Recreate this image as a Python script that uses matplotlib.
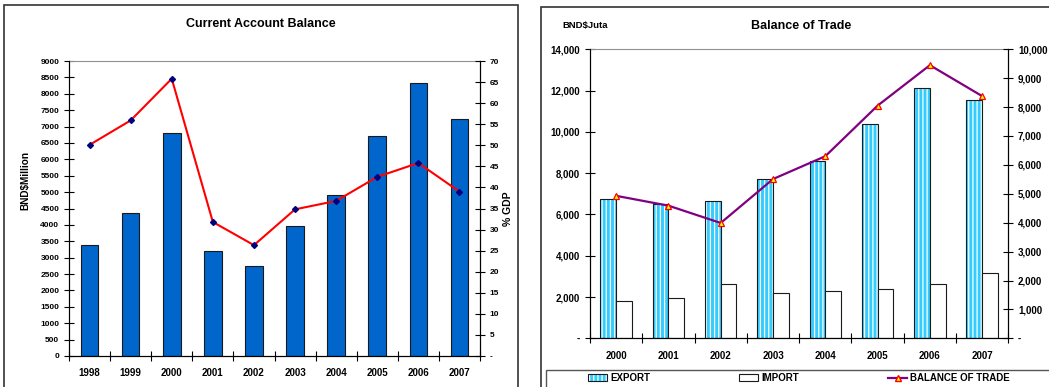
import matplotlib
matplotlib.use("Agg")
import matplotlib.pyplot as plt
from matplotlib.patches import Rectangle, Patch
from matplotlib.lines import Line2D
from matplotlib.ticker import FixedLocator, FuncFormatter
import numpy as np

plt.rcParams['font.family'] = ['Liberation Sans', 'DejaVu Sans']
plt.rcParams['font.weight'] = 'bold'
plt.rcParams['hatch.linewidth'] = 0.9

# data - current account
ca_years = ['1998', '1999', '2000', '2001', '2002', '2003', '2004', '2005', '2006', '2007']
ca_balance = [3400, 4370, 6800, 3190, 2750, 3980, 4910, 6720, 8320, 7220]
ca_pct_gdp = [50.1, 55.9, 65.8, 31.8, 26.3, 34.8, 36.8, 42.5, 45.8, 39.0]

# data - balance of trade
bt_years = ['2000', '2001', '2002', '2003', '2004', '2005', '2006', '2007']
bt_export = [6730, 6500, 6630, 7720, 8570, 10400, 12110, 11540]
bt_import = [1810, 1970, 2650, 2210, 2290, 2370, 2650, 3160]
bt_balance = [4930, 4590, 3990, 5510, 6300, 8050, 9450, 8380]

W, H = 1049, 387
fig = plt.figure(figsize=(W / 100, H / 100), dpi=100)


def px(x0, y0, x1, y1):
    # pixel box -> figure fraction rect
    return [x0 / W, 1 - y1 / H, (x1 - x0) / W, (y1 - y0) / H]


# panel frames
fig.patches.append(Rectangle((4 / W, -0.05), 514 / W, 1 - 5 / H + 0.05,
                             transform=fig.transFigure, fill=False,
                             edgecolor='#333333', linewidth=1.2))
fig.patches.append(Rectangle((541 / W, -0.05), 0.6, 1 - 7 / H + 0.05,
                             transform=fig.transFigure, fill=False,
                             edgecolor='#333333', linewidth=1.2))


def style_axes(ax, n):
    ax.set_xlim(-0.5, n - 0.5)
    ax.spines['top'].set_color('#909090')
    ax.spines['top'].set_linewidth(0.8)
    for s in ['left', 'bottom', 'right']:
        ax.spines[s].set_linewidth(0.8)
    ax.xaxis.set_minor_locator(FixedLocator(np.arange(n + 1) - 0.5))
    ax.tick_params(axis='x', which='major', length=0, labelsize=7, pad=9)
    ax.tick_params(axis='x', which='minor', direction='inout', length=7, width=0.8)
    ax.tick_params(axis='y', direction='inout', length=7, width=0.8)


# ---------- Current Account Balance ----------
ax1 = fig.add_axes(px(69, 61, 480, 356))
x = np.arange(len(ca_years))
ax1.bar(x, ca_balance, width=0.43, color='#0066CC', edgecolor='#1a1a1a', linewidth=0.8)
ax1.set_ylim(0, 9000)
ax1.set_yticks(np.arange(0, 9001, 500))
ax1.tick_params(axis='y', labelsize=6)
ax1.set_xticks(x)
ax1.set_xticklabels(ca_years)
style_axes(ax1, len(ca_years))

ax1r = ax1.twinx()
ax1r.plot(x, ca_pct_gdp, color='#FF0000', linewidth=1.5, marker='D',
          markersize=3, markerfacecolor='#000080', markeredgecolor='#000080')
ax1r.set_ylim(0, 70)
ax1r.set_yticks(np.arange(0, 71, 5))
ax1r.yaxis.set_major_formatter(FuncFormatter(lambda v, p: '-' if v == 0 else f'{v:.0f}'))
ax1r.tick_params(axis='y', direction='inout', length=7, width=0.8, labelsize=6)
ax1r.spines['top'].set_visible(False)

fig.text(261 / W, 1 - 24 / H, 'Current Account Balance', ha='center', va='center',
         fontsize=9, fontweight='bold')
fig.text(25 / W, 1 - 181 / H, 'BND$Million', rotation=90, ha='center', va='center',
         fontsize=7.2, fontweight='bold')
fig.text(508 / W, 1 - 209 / H, '% GDP', rotation=90, ha='center', va='center',
         fontsize=7.5, fontweight='bold')

# ---------- Balance of Trade ----------
ax2 = fig.add_axes(px(590, 49.3, 1008.3, 338.3))
x2 = np.arange(len(bt_years))
bw = 0.3
ax2.bar(x2 - bw / 2, bt_export, width=bw, color='#33CCFF', edgecolor='white',
        linewidth=0, hatch='||||')
ax2.bar(x2 - bw / 2, bt_export, width=bw, fill=False, edgecolor='#1a1a1a', linewidth=0.8)
ax2.bar(x2 + bw / 2, bt_import, width=bw, color='white', edgecolor='#1a1a1a', linewidth=0.8)
ax2.set_ylim(0, 14000)
ax2.set_yticks(np.arange(0, 14001, 2000))
ax2.yaxis.set_major_formatter(FuncFormatter(lambda v, p: '-' if v == 0 else f'{v:,.0f}'))
ax2.tick_params(axis='y', labelsize=7)
ax2.set_xticks(x2)
ax2.set_xticklabels(bt_years)
style_axes(ax2, len(bt_years))

ax2r = ax2.twinx()
ax2r.plot(x2, bt_balance, color='#800080', linewidth=1.6, marker='^',
          markersize=4.5, markerfacecolor='#FFFF00', markeredgecolor='#FF0000',
          markeredgewidth=0.9)
ax2r.set_ylim(0, 10000)
ax2r.set_yticks(np.arange(0, 10001, 1000))
ax2r.yaxis.set_major_formatter(FuncFormatter(lambda v, p: '-' if v == 0 else f'{v:,.0f}'))
ax2r.tick_params(axis='y', direction='inout', length=7, width=0.8, labelsize=7)
ax2r.spines['top'].set_visible(False)

fig.text(801 / W, 1 - 26 / H, 'Balance of Trade', ha='center', va='center',
         fontsize=9, fontweight='bold')
fig.text(562 / W, 1 - 25.6 / H, 'BND$Juta', ha='left', va='center',
         fontsize=6.8, fontweight='bold')

# legend box
fig.patches.append(Rectangle((546 / W, -0.05), 0.6, 1 - 370 / H + 0.05,
                             transform=fig.transFigure, fill=False,
                             edgecolor='#555555', linewidth=1.0))
exp_handle = (Patch(facecolor='#33CCFF', edgecolor='white', hatch='||||', linewidth=0),
              Patch(fill=False, edgecolor='#1a1a1a', linewidth=0.8))
imp_handle = Patch(facecolor='white', edgecolor='#1a1a1a', linewidth=0.8)
bal_handle = Line2D([], [], color='#800080', linewidth=1.6, marker='^', markersize=4.5,
                    markerfacecolor='#FFFF00', markeredgecolor='#FF0000')
labels = ['EXPORT', 'IMPORT', 'BALANCE OF TRADE']
for h, lab, xp in zip([exp_handle, imp_handle, bal_handle], labels, [588, 739, 888]):
    fig.legend([h], [lab], loc='center left', bbox_to_anchor=(xp / W, 1 - 378 / H),
               frameon=False, fontsize=7, handlelength=2.0, handleheight=0.6,
               handletextpad=0.3, borderpad=0, borderaxespad=0)

fig.savefig('out.png', dpi=100)
